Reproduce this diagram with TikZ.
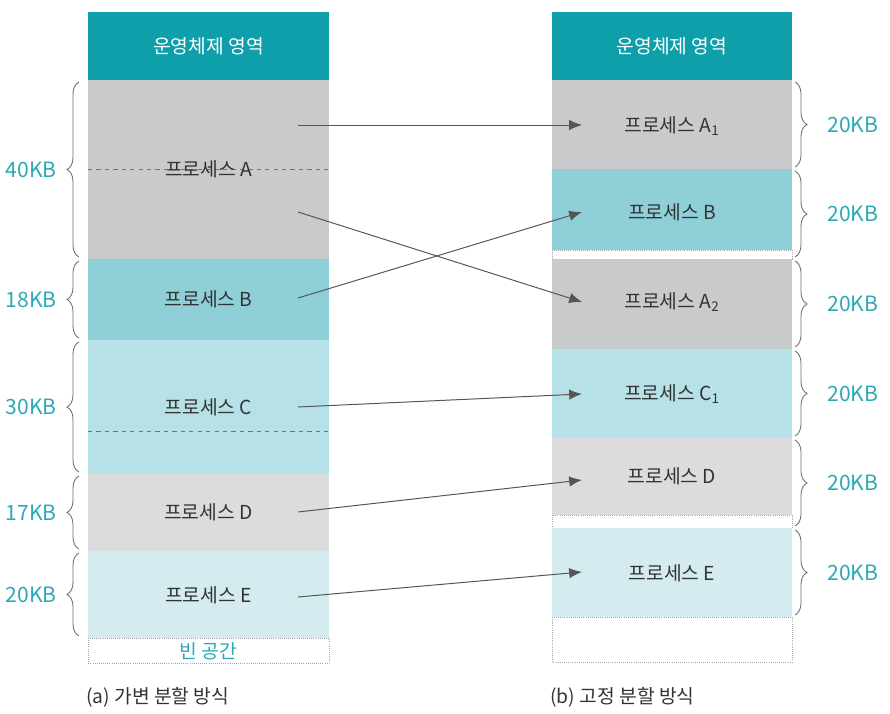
\documentclass[tikz,border=0pt]{standalone}
\usepackage{fontspec}
\setmainfont{Noto Sans CJK KR}
\usetikzlibrary{decorations.pathreplacing,arrows.meta}
\definecolor{osteal}{HTML}{0F9FAA}
\definecolor{agray}{HTML}{C9CACC}
\definecolor{bteal}{HTML}{8FCFD8}
\definecolor{cteal}{HTML}{B6E1E7}
\definecolor{dgray}{HTML}{DCDCDE}
\definecolor{eteal}{HTML}{D4ECF0}
\definecolor{kbteal}{HTML}{2BA9B6}
\definecolor{txtgray}{HTML}{333333}
\definecolor{linkgray}{HTML}{555555}
\tikzset{
  every node/.style={inner sep=0pt, font=\fontsize{13.7}{16}\selectfont},
  proc/.style={text=txtgray},
  ostext/.style={text=white},
  freetext/.style={text=kbteal},
  caption/.style={text=txtgray, anchor=west},
  kb/.style={text=kbteal, font=\fontsize{15}{17}\selectfont},
  free/.style={draw=gray!70, densely dotted, line width=0.5pt, fill=white},
  cut/.style={draw=gray!90!black, dashed, line width=0.6pt},
  brace/.style={draw=gray!85!black, line width=0.6pt, decorate, decoration={brace, amplitude=0.3cm}},
  link/.style={draw=linkgray, line width=0.7pt, -{Latex[length=0.32cm, width=0.26cm]}}
}

\begin{document}
\begin{tikzpicture}[x=0.025cm, y=-0.025cm]
  \useasboundingbox (0,0) rectangle (890,714);
  \fill[osteal] (88,12) rectangle (329,80);
  \fill[agray]  (88,80) rectangle (329,259);
  \fill[bteal]  (88,259) rectangle (329,340);
  \fill[cteal]  (88,340) rectangle (329,474);
  \fill[dgray]  (88,474) rectangle (329,551);
  \fill[eteal]  (88,551) rectangle (329,638);
  \draw[free]   (88,638) rectangle (329,663);
  \draw[cut] (88,169) -- (329,169);
  \draw[cut] (88,431) -- (329,431);

  \fill[osteal] (552,12) rectangle (792,80);
  \fill[agray]  (552,80) rectangle (792,169);
  \fill[bteal]  (552,169) rectangle (792,250);
  \draw[free]   (552,250) rectangle (792,259);
  \fill[agray]  (552,259) rectangle (792,349);
  \fill[cteal]  (552,349) rectangle (792,438);
  \fill[dgray]  (552,438) rectangle (792,515);
  \draw[free]   (552,515) rectangle (792,528);
  \fill[eteal]  (552,528) rectangle (792,617);
  \draw[free]   (552,617) rectangle (792,662);

  \node[ostext] (osL) at (208.5,46) {운영체제 영역};
  \node[proc] (pA) at (208.5,169) {프로세스 A};
  \node[proc] (pB) at (208.5,299) {프로세스 B};
  \node[proc] (pC) at (208.5,407) {프로세스 C};
  \node[proc] (pD) at (208.5,512) {프로세스 D};
  \node[proc] (pE) at (208.5,595) {프로세스 E};
  \node[freetext] (freeL) at (208.5,651) {빈 공간};
  \node[caption] (capL) at (86,697) {(a) 가변 분할 방식};

  \node[ostext] (osR) at (672,46) {운영체제 영역};
  \node[proc] (qA1) at (672,126) {프로세스 A\textsubscript{1}};
  \node[proc] (qB)  at (672,212) {프로세스 B};
  \node[proc] (qA2) at (672,302) {프로세스 A\textsubscript{2}};
  \node[proc] (qC1) at (672,394) {프로세스 C\textsubscript{1}};
  \node[proc] (qD)  at (672,476) {프로세스 D};
  \node[proc] (qE)  at (672,573) {프로세스 E};
  \node[caption] (capR) at (550,697) {(b) 고정 분할 방식};

  \draw[brace] (79,257) -- (79,82)  node[kb, midway, anchor=east, xshift=-0.55cm] (kbA) {40KB};
  \draw[brace] (79,338) -- (79,261) node[kb, midway, anchor=east, xshift=-0.55cm] (kbB) {18KB};
  \draw[brace] (79,472) -- (79,342) node[kb, midway, anchor=east, xshift=-0.55cm] (kbC) {30KB};
  \draw[brace] (79,549) -- (79,476) node[kb, midway, anchor=east, xshift=-0.55cm] (kbD) {17KB};
  \draw[brace] (79,636) -- (79,553) node[kb, midway, anchor=east, xshift=-0.55cm] (kbE) {20KB};

  \draw[brace] (795,82)  -- (795,167) node[kb, midway, anchor=west, xshift=0.8cm] (kb1) {20KB};
  \draw[brace] (795,171) -- (795,257) node[kb, midway, anchor=west, xshift=0.8cm] (kb2) {20KB};
  \draw[brace] (795,261) -- (795,347) node[kb, midway, anchor=west, xshift=0.8cm] (kb3) {20KB};
  \draw[brace] (795,351) -- (795,436) node[kb, midway, anchor=west, xshift=0.8cm] (kb4) {20KB};
  \draw[brace] (795,440) -- (795,526) node[kb, midway, anchor=west, xshift=0.8cm] (kb5) {20KB};
  \draw[brace] (795,530) -- (795,615) node[kb, midway, anchor=west, xshift=0.8cm] (kb6) {20KB};

  \coordinate (fA1) at (298,125);  \coordinate (tA1) at (582,125);
  \coordinate (fA2) at (298,212);  \coordinate (tA2) at (582,302);
  \coordinate (fB)  at (298,298);  \coordinate (tB)  at (582,212);
  \coordinate (fC)  at (298,407);  \coordinate (tC)  at (582,394);
  \coordinate (fD)  at (298,512);  \coordinate (tD)  at (582,480);
  \coordinate (fE)  at (298,597);  \coordinate (tE)  at (582,572);
  \draw[link] (fA1) -- (tA1);
  \draw[link] (fA2) -- (tA2);
  \draw[link] (fB)  -- (tB);
  \draw[link] (fC)  -- (tC);
  \draw[link] (fD)  -- (tD);
  \draw[link] (fE)  -- (tE);
\end{tikzpicture}
\end{document}
